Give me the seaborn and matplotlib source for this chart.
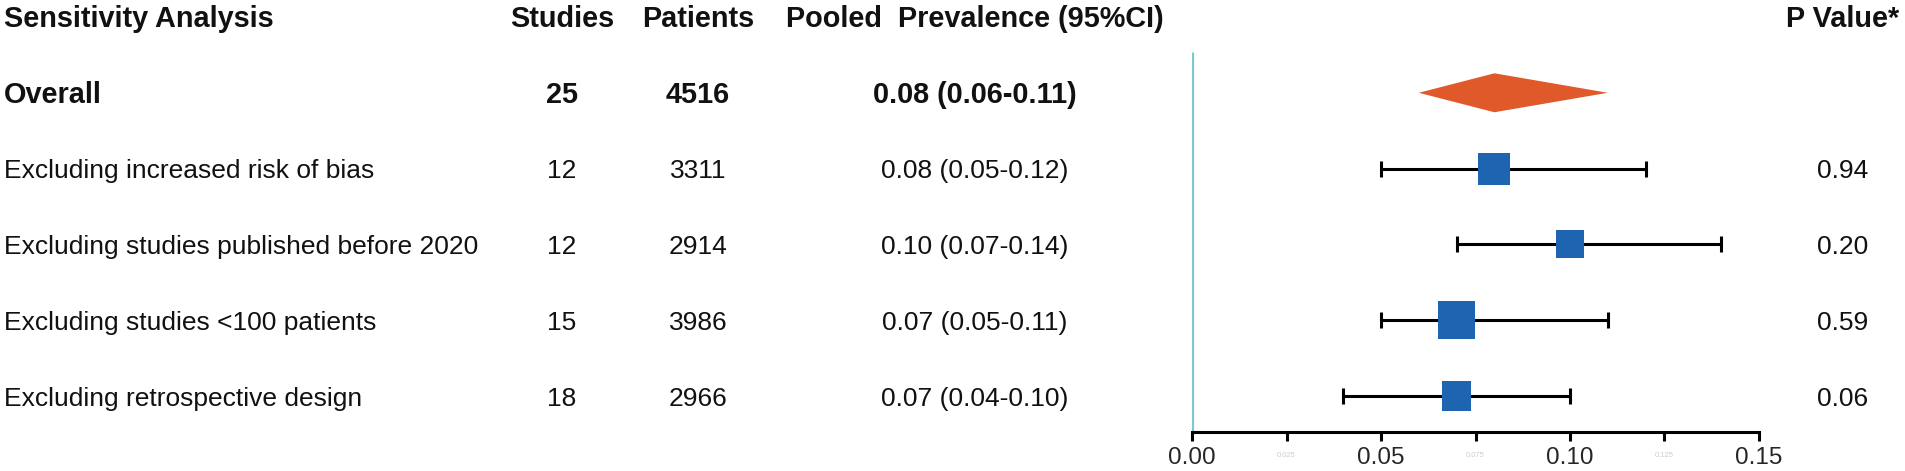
import numpy as np
import matplotlib
matplotlib.use('Agg')
import matplotlib.pyplot as plt
import matplotlib.transforms as mtransforms
import seaborn as sns

labels = ['Excluding increased risk of bias',
          'Excluding studies published before 2020',
          'Excluding studies <100 patients',
          'Excluding retrospective design']
studies = [12, 12, 15, 18]
patients = [3311, 2914, 3986, 2966]
estimate = [0.08, 0.10, 0.07, 0.07]
ci_low = [0.05, 0.07, 0.05, 0.04]
ci_high = [0.12, 0.14, 0.11, 0.10]
p_values = ['0.94', '0.20', '0.59', '0.06']

overall_studies = 25
overall_patients = 4516
overall_est = 0.08
overall_low = 0.06
overall_high = 0.11

x_ticks = [0.00, 0.05, 0.10, 0.15]
x_minor = [0.025, 0.075, 0.125]

sns.set_theme(style='white')
plt.rcParams['font.family'] = ['Liberation Sans', 'DejaVu Sans']

W, H = 1906, 471
fig = plt.figure(figsize=(W / 100, H / 100), dpi=100)

# axes spans the forest part: x 0 -> 1192px, 0.15 -> 1759px, axis line at y=432px
ax = fig.add_axes([1192 / W, (H - 432) / H, 567 / W, 432 / H])
ax.set_xlim(0, 0.15)
ax.set_ylim(5.475, -0.224)

rows = np.arange(2, 2 + len(labels))

# reference line at zero
ax.plot([0, 0], [0.462, 5.475], color='#7CC8D3', linewidth=2.3, solid_capstyle='butt', zorder=1)

# confidence intervals
est = np.array(estimate)
ax.errorbar(est, rows, xerr=[est - np.array(ci_low), np.array(ci_high) - est],
            fmt='none', ecolor='black', elinewidth=2.2, capsize=6.1, capthick=2.2, zorder=2)

# squares (size by study weight)
box_sizes = [23, 20, 27, 21]
sns.scatterplot(x=estimate, y=rows, marker='s', s=[b ** 2 for b in box_sizes],
                color='#1E64B0', linewidth=0, ax=ax, zorder=3, legend=False)

# overall diamond
dh = 0.257
ax.fill([overall_low, overall_est, overall_high, overall_est],
        [1, 1 - dh, 1, 1 + dh], color='#E0592A', linewidth=0, zorder=3)

sns.despine(ax=ax, left=True, top=True, right=True)
ax.spines['bottom'].set_linewidth(2.2)
ax.spines['bottom'].set_color('black')
ax.set_yticks([])
ax.set_xticks(x_ticks)
ax.set_xticklabels([f'{t:.2f}' for t in x_ticks], fontsize=17.5)
ax.set_xticks(x_minor, minor=True)
ax.set_xticklabels([f'{t:.3f}' for t in x_minor], minor=True, fontsize=5.5, color='#cccccc')
ax.tick_params(axis='x', which='both', bottom=True, direction='out', length=6.5,
               width=2.2, color='black', pad=4.5)
ax.tick_params(axis='x', which='minor', pad=8)
ax.grid(False)
ax.set_xlabel('')
ax.set_ylabel('')

# table text: x in figure pixels, y in row units
tr = mtransforms.blended_transform_factory(
    mtransforms.Affine2D().scale(1 / W, 1) + fig.transFigure, ax.transData)
base = 0.13


def put(x, row, s, ha='left', bold=False, size=19):
    ax.text(x, row + base, s, transform=tr, ha=ha, va='baseline', fontsize=size,
            fontweight='bold' if bold else 'normal', color='#111111', clip_on=False)


put(4, 0, 'Sensitivity Analysis', bold=True, size=20.8)
put(562, 0, 'Studies', ha='center', bold=True, size=20.8)
put(698, 0, 'Patients', ha='center', bold=True, size=20.8)
put(975, 0, 'Pooled  Prevalence (95%CI)', ha='center', bold=True, size=20.8)
put(1843, 0, 'P Value*', ha='center', bold=True, size=20.8)

put(4, 1, 'Overall', bold=True, size=20.8)
put(562, 1, str(overall_studies), ha='center', bold=True, size=20.8)
put(698, 1, str(overall_patients), ha='center', bold=True, size=20.8)
put(975, 1, f'{overall_est:.2f} ({overall_low:.2f}-{overall_high:.2f})', ha='center', bold=True, size=20.8)

for r, lab, st, pt, e, lo, hi, pv in zip(rows, labels, studies, patients, estimate, ci_low, ci_high, p_values):
    put(4, r, lab)
    put(562, r, str(st), ha='center')
    put(698, r, str(pt), ha='center')
    put(975, r, f'{e:.2f} ({lo:.2f}-{hi:.2f})', ha='center')
    put(1843, r, pv, ha='center')

fig.savefig('out.png', dpi=100, facecolor='white')
